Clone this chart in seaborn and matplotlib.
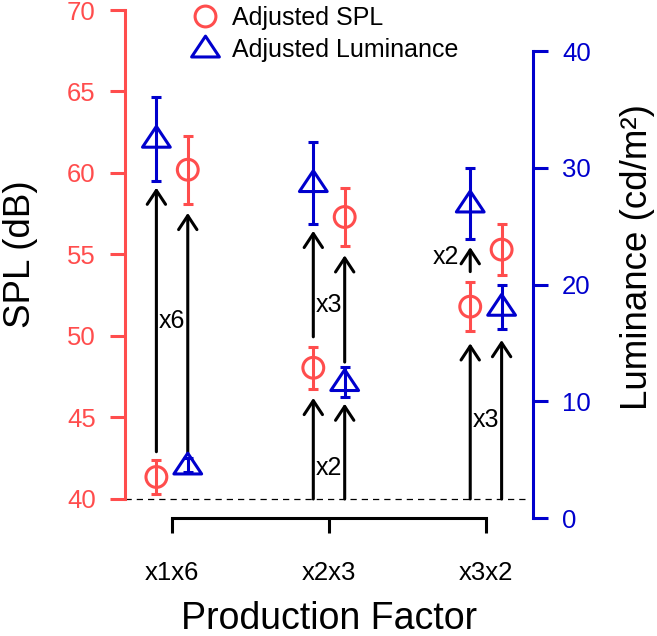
import seaborn as sns
import matplotlib.pyplot as plt
from matplotlib.lines import Line2D
from matplotlib.path import Path

# production factor groups
groups = ["x1x6", "x2x3", "x3x2"]

# adjusted SPL (dB), left axis
spl_high = [60.2, 57.3, 55.3]
spl_high_err = [2.1, 1.75, 1.55]
spl_low = [41.35, 48.05, 51.8]
spl_low_err = [1.05, 1.3, 1.5]

# adjusted luminance (cd/m2), right axis
lum_high = [32.5, 28.7, 26.95]
lum_high_err = [3.6, 3.5, 3.05]
lum_low = [4.5, 11.65, 18.1]
lum_low_err = [0.6, 1.3, 1.9]

# arrows (in dB on the left axis): group, side (-1 left / +1 right), start, end
arrow_group = [0, 0, 1, 1, 1, 1, 2, 2, 2]
arrow_side = [-1, 1, -1, -1, 1, 1, -1, -1, 1]
arrow_from = [42.9, 42.8, 40.0, 49.95, 40.0, 48.4, 40.0, 53.95, 40.0]
arrow_to = [59.1, 57.55, 46.2, 56.45, 45.85, 54.95, 49.55, 55.45, 49.75]

# factor labels next to the arrows
factor_text = ["x6", "x3", "x2", "x3", "x2"]
factor_group = [0, 1, 1, 2, 2]
factor_shift = [0.0, 0.0, 0.0, 0.0, -0.255]
factor_y = [50.9, 51.9, 41.9, 44.85, 54.85]

RED = "#ff4d4d"
BLUE = "#0000cd"
OFF = 0.1
LW = 2.2

sns.set_style("ticks")
plt.rcParams["font.family"] = ["Liberation Sans", "DejaVu Sans"]
plt.rcParams["text.color"] = "black"
plt.rcParams["axes.labelcolor"] = "black"

fig = plt.figure(figsize=(6.57, 6.36), dpi=100)
ax = fig.add_axes([125 / 657, 118 / 636, 408 / 657, 508 / 636])
ax2 = ax.twinx()

xpos = [i + 1 for i in range(len(groups))]
left_x = [x - OFF for x in xpos]
right_x = [x + OFF for x in xpos]

tri = Path([(0, 0.89), (-1, -0.61), (1, -0.61), (0, 0.89)], closed=True)

# error bars first, markers on top
ax.errorbar(right_x, spl_high, yerr=spl_high_err, fmt="none", ecolor=RED,
            elinewidth=LW, capsize=3.5, capthick=LW)
ax.errorbar(left_x, spl_low, yerr=spl_low_err, fmt="none", ecolor=RED,
            elinewidth=LW, capsize=3.5, capthick=LW)
ax2.errorbar(left_x, lum_high, yerr=lum_high_err, fmt="none", ecolor=BLUE,
             elinewidth=LW, capsize=3.5, capthick=LW)
ax2.errorbar(right_x, lum_low, yerr=lum_low_err, fmt="none", ecolor=BLUE,
             elinewidth=LW, capsize=3.5, capthick=LW)

sns.scatterplot(x=right_x + left_x, y=spl_high + spl_low, marker="o", s=225,
                facecolors="none", edgecolor=RED, linewidth=LW, ax=ax, zorder=3)
sns.scatterplot(x=left_x + right_x, y=lum_high + lum_low, marker=tri, s=400,
                facecolors="none", edgecolor=BLUE, linewidth=LW, ax=ax2, zorder=3)

# baseline
ax.axhline(40, xmin=0, xmax=0.99, color="black", lw=0.9, ls=(0, (5, 4)))

for g, sd, a, b in zip(arrow_group, arrow_side, arrow_from, arrow_to):
    x = xpos[g] + sd * OFF
    ax.annotate("", xy=(x, b), xytext=(x, a),
                arrowprops=dict(arrowstyle="->,head_length=0.5,head_width=0.33",
                                lw=LW, color="black", mutation_scale=20,
                                shrinkA=0, shrinkB=0))

for t, g, sh, y in zip(factor_text, factor_group, factor_shift, factor_y):
    ax.text(xpos[g] + sh, y, t, ha="center", va="center", fontsize=18,
            color="black")

# axes limits so 40 dB sits a bit above 0 cd/m2
ax.set_xlim(0.7, 3.3)
ax.set_ylim(38.834, 70)
ax2.set_ylim(0, 43.53)

ax.set_yticks([40, 45, 50, 55, 60, 65, 70])
ax2.set_yticks([0, 10, 20, 30, 40])
ax.set_xticks(xpos)
ax.set_xticklabels(groups)

for s in ["top", "right"]:
    ax.spines[s].set_visible(False)
for s in ["top", "left", "bottom"]:
    ax2.spines[s].set_visible(False)
ax.spines["left"].set_bounds(40, 70)
ax.spines["left"].set_color(RED)
ax.spines["left"].set_linewidth(LW)
ax.spines["bottom"].set_bounds(1, 3)
ax.spines["bottom"].set_linewidth(LW)
ax.spines["bottom"].set_color("black")
ax2.spines["right"].set_bounds(0, 40)
ax2.spines["right"].set_color(BLUE)
ax2.spines["right"].set_linewidth(LW)

ax.tick_params(axis="y", colors=RED, labelsize=18.5, length=11, width=LW, pad=10)
ax.tick_params(axis="x", colors="black", labelsize=18.5, length=11, width=LW, pad=20)
ax2.tick_params(axis="y", colors=BLUE, labelsize=18.5, length=11, width=LW, pad=10)

ax.set_xlabel("Production Factor", fontsize=27, color="black")
ax.set_ylabel("SPL (dB)", fontsize=26.5, color="black")
ax2.set_ylabel("Luminance (cd/m²)", fontsize=26.5, color="black")
ax.xaxis.set_label_coords(0.5, -0.164)
ax.yaxis.set_label_coords(-0.213, 0.52)
ax2.yaxis.set_label_coords(1.213, 0.513)

handles = [
    Line2D([], [], ls="none", marker="o", ms=15, mfc="none", mec=RED, mew=LW),
    Line2D([], [], ls="none", marker=tri, ms=20, mfc="none", mec=BLUE, mew=LW),
]
ax.legend(handles, ["Adjusted SPL", "Adjusted Luminance"], loc="upper left",
          bbox_to_anchor=(194 / 657, 1 - 6 / 636), bbox_transform=fig.transFigure,
          frameon=False, fontsize=18, handlelength=0.9, handletextpad=0.6,
          labelspacing=0.3, borderpad=0, borderaxespad=0)

fig.savefig("out.png", dpi=100)
